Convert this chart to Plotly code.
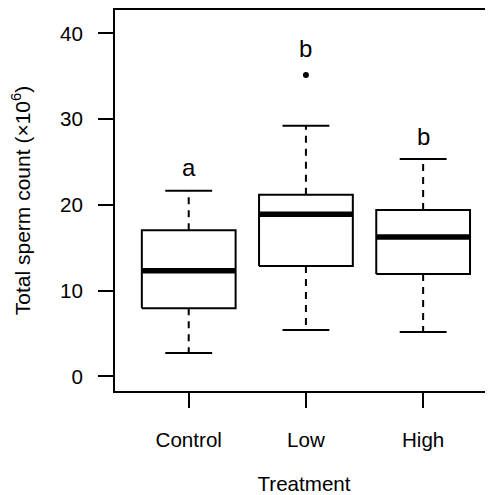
import plotly.graph_objects as go

# ---- data ----
categories = ["Control", "Low", "High"]
lower_whisker = [2.72, 5.40, 5.17]
q1 = [7.93, 12.86, 11.93]
median = [12.32, 18.89, 16.24]
q3 = [17.03, 21.18, 19.39]
upper_whisker = [21.65, 29.23, 25.34]
outlier_x = ["Low"]
outlier_y = [35.14]
sig_letters = ["a", "b", "b"]
sig_letter_y = [24.4, 38.2, 28.0]
y_tick_vals = [0, 10, 20, 30, 40]

# ---- style ----
FONT = "Liberation Sans, Arial, Helvetica, sans-serif"
BOX_HALF = 0.4
CAP_HALF = 0.2
LW = 2
BODY_OFFSET = 8  # default page body margin

xpos = {c: i + 1 for i, c in enumerate(categories)}

fig = go.Figure()
for c, lo, a, m, b, hi in zip(categories, lower_whisker, q1, median, q3, upper_whisker):
    x = xpos[c]
    # whiskers (dashed)
    fig.add_trace(go.Scatter(x=[x, x, None, x, x], y=[b, hi, None, a, lo], mode="lines",
                             line=dict(color="black", width=LW, dash="7px,6px"),
                             hoverinfo="skip", showlegend=False))
    # staples
    fig.add_trace(go.Scatter(x=[x - CAP_HALF, x + CAP_HALF, None, x - CAP_HALF, x + CAP_HALF],
                             y=[hi, hi, None, lo, lo], mode="lines",
                             line=dict(color="black", width=LW),
                             hoverinfo="skip", showlegend=False))
    # box
    fig.add_trace(go.Scatter(x=[x - BOX_HALF, x + BOX_HALF, x + BOX_HALF, x - BOX_HALF, x - BOX_HALF],
                             y=[a, a, b, b, a], mode="lines", fill="toself", fillcolor="white",
                             line=dict(color="black", width=LW),
                             hoverinfo="skip", showlegend=False))
    # median
    fig.add_trace(go.Scatter(x=[x - BOX_HALF, x + BOX_HALF], y=[m, m], mode="lines",
                             line=dict(color="black", width=5.5),
                             hoverinfo="skip", showlegend=False))

fig.add_trace(go.Scatter(x=[xpos[c] for c in outlier_x], y=outlier_y, mode="markers",
                         marker=dict(color="black", size=6), showlegend=False))

for c, lab, yy in zip(categories, sig_letters, sig_letter_y):
    fig.add_annotation(x=xpos[c], y=yy, text=lab, showarrow=False,
                       font=dict(family=FONT, size=24, color="black"),
                       xanchor="center", yanchor="middle")

fig.update_layout(
    width=493 - BODY_OFFSET, height=495 - BODY_OFFSET,
    margin=dict(l=115 - BODY_OFFSET, r=0, t=10 - BODY_OFFSET, b=104),
    paper_bgcolor="white", plot_bgcolor="white",
    font=dict(family=FONT, size=20.6, color="black"),
    showlegend=False,
)
fig.update_xaxes(
    range=[0.371, 3.596], tickmode="array",
    tickvals=[xpos[c] for c in categories], ticktext=categories,
    ticks="outside", ticklen=15, tickwidth=2, tickcolor="black",
    showline=True, linewidth=2, linecolor="black", mirror=True,
    showgrid=False, zeroline=False, ticklabelstandoff=14,
    title=dict(text="Treatment", font=dict(size=20.6), standoff=28),
)
fig.update_yaxes(
    range=[-1.71, 42.72], tickmode="array", tickvals=y_tick_vals,
    ticks="outside", ticklen=15, tickwidth=2, tickcolor="black",
    showline=True, linewidth=2, linecolor="black", mirror=False,
    showgrid=False, zeroline=False, ticklabelstandoff=11,
    title=dict(text="Total sperm count (×10<sup>6</sup>)", font=dict(size=21), standoff=28),
)

fig.write_html("out.html")
